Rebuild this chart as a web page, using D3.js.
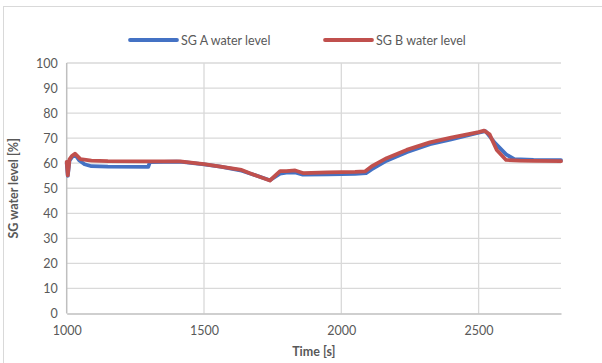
<!DOCTYPE html>
<html><head><meta charset="utf-8">
<script src="https://cdn.jsdelivr.net/npm/d3@7"></script>
<style>body{margin:0;background:#fff}svg{display:block}text{font-family:Lato,"Open Sans",sans-serif}</style>
</head><body>
<svg id="c" width="602" height="363"></svg>
<script>
const seriesNames = ["SG A water level", "SG B water level"];
const timeA = [1000,1004,1010,1020,1030,1045,1065,1090,1150,1297,1303,1400,1420,1500,1560,1637,1670,1740,1777,1800,1832,1860,1950,2050,2090,2110,2165,2240,2323,2400,2500,2525,2560,2600,2630,2700,2800];
const levelA = [60.0,55.0,61.0,62.5,63.5,61.2,59.6,58.8,58.6,58.5,60.4,60.6,60.5,59.5,58.6,57.0,55.8,53.2,55.8,56.2,56.3,55.4,55.5,55.7,56.0,57.5,61.0,64.5,67.6,69.5,72.2,72.8,68.0,63.5,61.6,61.3,61.2];
const timeB = [1000,1004,1010,1020,1030,1050,1090,1150,1300,1390,1413,1500,1560,1637,1667,1740,1777,1800,1832,1863,1950,2050,2086,2110,2165,2238,2323,2400,2500,2520,2540,2566,2600,2650,2700,2800];
const levelB = [60.5,55.2,61.5,63.0,63.8,61.6,61.0,60.8,60.7,60.7,60.7,59.6,58.6,57.3,56.0,53.1,56.8,56.8,57.1,56.0,56.3,56.5,56.7,58.7,62.0,65.3,68.3,70.2,72.4,73.0,71.5,65.3,61.3,61.0,60.9,60.8];
const xTicks = [1000,1500,2000,2500];
const yTicks = [0,10,20,30,40,50,60,70,80,90,100];
const colors = ["#4472C4","#C0504D"];

const svg = d3.select("#c");
const L=66.7, R=561, T=63, B=313.5;
const x = d3.scaleLinear().domain([1000,2800]).range([L,R]);
const y = d3.scaleLinear().domain([0,100]).range([B,T]);

svg.append("rect").attr("x",3.5).attr("y",6.5).attr("width",640).attr("height",420)
  .attr("fill","none").attr("stroke","#D9D9D9");

// gridlines
svg.append("g").selectAll("line").data(yTicks.filter(d=>d>0)).join("line")
  .attr("x1",L).attr("x2",R).attr("y1",d=>y(d)).attr("y2",d=>y(d))
  .attr("stroke","#D9D9D9").attr("stroke-width",1.3);
svg.append("g").selectAll("line").data(xTicks.filter(d=>d>1000)).join("line")
  .attr("y1",T).attr("y2",B).attr("x1",d=>x(d)).attr("x2",d=>x(d))
  .attr("stroke","#D9D9D9").attr("stroke-width",1.3);

// axes
const xa = svg.append("g").attr("transform",`translate(0,${B})`)
  .call(d3.axisBottom(x).tickValues(xTicks).tickSize(0).tickPadding(13).tickFormat(d3.format("d")));
const ya = svg.append("g").attr("transform",`translate(${L},0)`)
  .call(d3.axisLeft(y).tickValues(yTicks).tickSize(0).tickPadding(9));
[xa,ya].forEach(g=>{
  g.select(".domain").attr("stroke","#BFBFBF").attr("stroke-width",1.5);
  g.selectAll("text").attr("fill","#595959").attr("font-size",12.5);
});
ya.select(".domain").attr("d",`M0,${T}V${B}`);

// lines
const line = d3.line().x(d=>x(d[0])).y(d=>y(d[1]));
const data = [d3.zip(timeA,levelA), d3.zip(timeB,levelB)];
svg.append("g").selectAll("path").data(data).join("path")
  .attr("d",line).attr("fill","none").attr("stroke",(d,i)=>colors[i])
  .attr("stroke-width",3.8).attr("stroke-linejoin","round").attr("stroke-linecap","round");

// legend
const lg = svg.append("g");
const lx = [130, 325];
seriesNames.forEach((n,i)=>{
  lg.append("line").attr("x1",lx[i]).attr("x2",lx[i]+47).attr("y1",40).attr("y2",40)
    .attr("stroke",colors[i]).attr("stroke-width",3.8).attr("stroke-linecap","round");
  lg.append("text").attr("x",lx[i]+51).attr("y",44.5).attr("font-size",12.5).attr("fill","#595959").text(n);
});

// titles
svg.append("text").attr("x",(L+R)/2).attr("y",356).attr("text-anchor","middle")
  .attr("font-size",12.5).attr("font-weight","bold").attr("fill","#595959").text("Time [s]");
svg.append("text").attr("transform",`translate(18,${(T+B)/2}) rotate(-90)`).attr("text-anchor","middle")
  .attr("font-size",12.5).attr("font-weight","bold").attr("fill","#595959").text("SG water level [%]");
</script>
</body></html>
